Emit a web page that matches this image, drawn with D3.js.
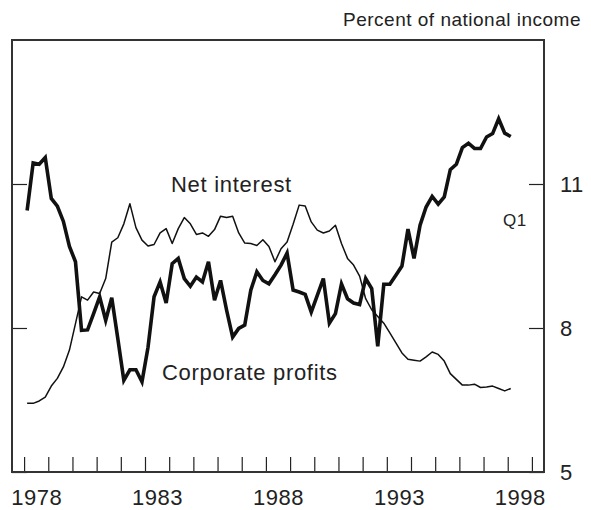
<!DOCTYPE html>
<html>
<head>
<meta charset="utf-8">
<script src="https://cdn.jsdelivr.net/npm/d3@7"></script>
<style>
    body { margin: 0; background: #fff; }
    svg { display: block; font-family: "Liberation Sans", Arial, sans-serif; }
</style>
</head>
<body>
<div id="chart"></div>
<script>
// quarterly shares of national income, 1978Q1 to 1998Q1
var firstYear = 1978;
var profits = [
    10.45, 11.44, 11.41, 11.55, 10.70, 10.54, 10.22, 9.70, 9.38, 7.95,
    7.96, 8.30, 8.65, 8.16, 8.63, 7.78, 6.91, 7.13, 7.13, 6.88,
    7.60, 8.65, 8.96, 8.52, 9.34, 9.45, 9.03, 8.87, 9.06, 8.96,
    9.38, 8.58, 8.99, 8.37, 7.81, 7.99, 8.06, 8.79, 9.17, 8.99,
    8.92, 9.11, 9.31, 9.56, 8.79, 8.75, 8.70, 8.33, 8.68, 9.03,
    8.10, 8.30, 8.92, 8.61, 8.52, 8.49, 9.03, 8.82, 7.62, 8.91,
    8.91, 9.10, 9.29, 10.06, 9.45, 10.14, 10.52, 10.74, 10.58, 10.73,
    11.30, 11.41, 11.76, 11.85, 11.74, 11.74, 11.98, 12.05, 12.36, 12.06, 11.99
];
var netInterest = [
    6.43, 6.43, 6.48, 6.56, 6.79, 6.95, 7.19, 7.54, 8.09, 8.65,
    8.58, 8.75, 8.72, 9.03, 9.79, 9.88, 10.17, 10.59, 10.09, 9.83,
    9.71, 9.74, 9.98, 10.07, 9.76, 10.07, 10.30, 10.17, 9.95, 9.98,
    9.91, 10.05, 10.33, 10.30, 10.33, 9.98, 9.77, 9.76, 9.72, 9.84,
    9.70, 9.38, 9.65, 9.79, 10.16, 10.56, 10.54, 10.21, 10.04, 9.98,
    10.02, 10.14, 9.76, 9.45, 9.31, 9.08, 8.61, 8.38, 8.24, 8.10,
    7.90, 7.69, 7.48, 7.35, 7.33, 7.31, 7.40, 7.50, 7.45, 7.31,
    7.05, 6.93, 6.81, 6.81, 6.83, 6.76, 6.77, 6.79, 6.74, 6.69, 6.74
];
var yearTicks = d3.range(1978, 2000);
var yearLabels = [1978, 1983, 1988, 1993, 1998];
var valueTicks = [5, 8, 11];

var width = 591, height = 510;
var plotLeft = 12, plotRight = 544, plotTop = 40, plotBottom = 472;

var svg = d3.select('#chart').append('svg')
    .attr('width', width)
    .attr('height', height);

var x = d3.scaleLinear().domain([1977.5, 1999.5]).range([plotLeft, plotRight]);
var y = d3.scaleLinear().domain([5, 14]).range([plotBottom, plotTop]);

function quarterDate(i) {
    return firstYear + i / 4 + 0.125;
}

// tick marks pointing into the plot
svg.append('g')
    .attr('transform', 'translate(0,' + plotBottom + ')')
    .call(d3.axisBottom(x).tickValues(yearTicks).tickSize(-15).tickFormat(''));
svg.append('g')
    .attr('transform', 'translate(' + plotLeft + ',0)')
    .call(d3.axisLeft(y).tickValues(valueTicks).tickSize(-15).tickFormat(''));
svg.append('g')
    .attr('transform', 'translate(' + plotRight + ',0)')
    .call(d3.axisRight(y).tickValues(valueTicks).tickSize(-15).tickFormat(''));

// labels: years centred in their year, values on the right
svg.append('g')
    .attr('class', 'labels')
    .attr('transform', 'translate(0,' + plotBottom + ')')
    .call(d3.axisBottom(x)
        .tickValues(yearLabels.map(function(d) { return d + 0.5; }))
        .tickSize(0).tickPadding(17)
        .tickFormat(function(d) { return Math.floor(d); }));
svg.append('g')
    .attr('class', 'labels')
    .attr('transform', 'translate(' + plotRight + ',0)')
    .call(d3.axisRight(y).tickValues(valueTicks).tickSize(0).tickPadding(16));

svg.selectAll('.domain').remove();
svg.selectAll('.tick line').attr('stroke', '#222').attr('stroke-width', 1.2);
svg.selectAll('.labels text')
    .attr('font-size', 22)
    .attr('letter-spacing', 0.5)
    .attr('fill', '#222')
    .attr('font-family', '"Liberation Sans", Arial, sans-serif');

svg.append('rect')
    .attr('x', plotLeft).attr('y', plotTop)
    .attr('width', plotRight - plotLeft).attr('height', plotBottom - plotTop)
    .attr('fill', 'none')
    .attr('stroke', '#333')
    .attr('stroke-width', 2);

var line = d3.line()
    .x(function(d, i) { return x(quarterDate(i)); })
    .y(function(d) { return y(d); });

svg.append('path')
    .datum(netInterest)
    .attr('d', line)
    .attr('fill', 'none')
    .attr('stroke', '#111')
    .attr('stroke-width', 1.5)
    .attr('stroke-linejoin', 'round');

svg.append('path')
    .datum(profits)
    .attr('d', line)
    .attr('fill', 'none')
    .attr('stroke', '#111')
    .attr('stroke-width', 3.6)
    .attr('stroke-linejoin', 'miter');

function label(text, px, py, size, anchor) {
    svg.append('text')
        .attr('x', px).attr('y', py)
        .attr('font-size', size)
        .attr('letter-spacing', size > 20 ? 0.7 : 0.5)
        .attr('text-anchor', anchor || 'start')
        .attr('fill', '#222')
        .text(text);
}

label('Net interest', 171, 192, 22);
label('Corporate profits', 162, 380, 22);
label('Q1', 503, 226, 17);
label('Percent of national income', 581, 26, 19, 'end');
</script>
</body>
</html>
